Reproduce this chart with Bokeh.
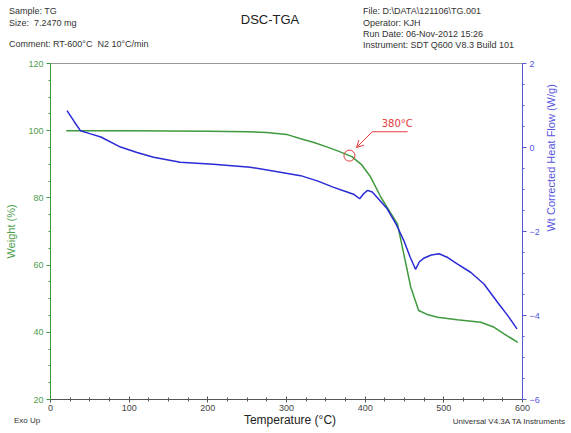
import math
import numpy as np
from bokeh.plotting import figure
from bokeh.layouts import column
from bokeh.models import (LinearAxis, Range1d, Label, Span, Arrow, OpenHead,
                          FixedTicker, Div)
from bokeh.embed import file_html
from bokeh.resources import INLINE

# ---- data ----
temp_w = [20, 50, 100, 150, 200, 250, 275, 300, 318, 335, 352, 365, 383, 395,
          407, 420, 428, 441, 449, 458, 468, 480, 492, 517, 547, 564, 576, 585, 594]
weight = [100.0, 100.0, 99.95, 99.9, 99.85, 99.7, 99.5, 98.9, 97.6, 96.5, 95.1,
          94.0, 92.3, 90.0, 86.2, 80.2, 77.2, 72.3, 63.4, 53.4, 46.5, 45.2, 44.5,
          43.7, 43.0, 41.5, 39.6, 38.3, 37.0]

temp_h = [21, 30, 38, 50, 64, 89, 110, 131, 165, 207, 254, 318, 340, 360, 377,
          386, 393, 398, 403, 409, 419, 428, 440, 449, 457, 464, 469, 475, 484,
          494, 505, 517, 534, 551, 568, 582, 593]
heat_flow = [0.88, 0.62, 0.40, 0.33, 0.25, 0.01, -0.12, -0.23, -0.35, -0.40,
             -0.47, -0.67, -0.80, -0.95, -1.06, -1.12, -1.22, -1.10, -1.02, -1.06,
             -1.27, -1.46, -1.85, -2.21, -2.60, -2.90, -2.72, -2.63, -2.56, -2.53,
             -2.62, -2.77, -2.97, -3.25, -3.68, -4.02, -4.32]

x_ticks = [0, 100, 200, 300, 400, 500, 600]
w_ticks = [20, 40, 60, 80, 100, 120]
hf_ticks = [-6, -4, -2, 0, 2]
mark_temp = 380
mark_text = "380°C"

header_left = ["Sample: TG", "Size:  7.2470 mg", "Comment: RT-600°C  N2 10°C/min"]
header_title = "DSC-TGA"
header_right = ["File: D:\\DATA\\121106\\TG.001", "Operator: KJH",
                "Run Date: 06-Nov-2012 15:26", "Instrument: SDT Q600 V8.3 Build 101"]
footer_left = "Exo Up"
x_label = "Temperature (°C)"
footer_right = "Universal V4.3A TA Instruments"

GREEN = "#3f9a3f"
GREEN_T = "#4d9e4d"
BLUE = "#2a2ad6"
BLUE_T = "#5656dc"
RED = "#e23a3a"
FONT = "Liberation Sans"

W = 565
HEAD_H = 56
FIG_H = 359
FOOT_H = 18

p = figure(width=W, height=FIG_H, output_backend="svg", toolbar_location=None,
           x_range=Range1d(0, 600), y_range=Range1d(20, 120),
           min_border_left=50, min_border_right=43, min_border_top=7,
           min_border_bottom=16, background_fill_color="white",
           border_fill_color="white", margin=0)
p.outline_line_color = None
p.grid.visible = False

p.extra_y_ranges = {"hf": Range1d(-6, 2)}

# x axis
xa = p.xaxis[0]
xa.ticker = FixedTicker(ticks=x_ticks, minor_ticks=list(range(0, 601, 25)))
xa.axis_line_color = "#555555"
xa.major_tick_line_color = "#555555"
xa.minor_tick_line_color = "#555555"
xa.major_tick_in = 3
xa.major_tick_out = 3
xa.minor_tick_in = 2
xa.minor_tick_out = 2
xa.major_label_text_font = FONT
xa.major_label_text_font_size = "9px"
xa.major_label_text_color = "#444444"
xa.major_label_standoff = 2

# left axis
ya = p.yaxis[0]
ya.ticker = FixedTicker(ticks=w_ticks, minor_ticks=list(range(20, 121, 5)))
ya.axis_line_color = GREEN
ya.major_tick_line_color = GREEN
ya.minor_tick_line_color = GREEN
ya.major_tick_in = 0
ya.major_tick_out = 4
ya.minor_tick_in = 0
ya.minor_tick_out = 2
ya.major_label_text_font = FONT
ya.major_label_text_font_size = "9px"
ya.major_label_text_color = GREEN_T
ya.major_label_standoff = 3
ya.axis_label = "Weight (%)"
ya.axis_label_text_font = FONT
ya.axis_label_text_font_style = "normal"
ya.axis_label_text_font_size = "11px"
ya.axis_label_text_color = GREEN_T
ya.axis_label_standoff = 8

# right axis
ra = LinearAxis(y_range_name="hf")
ra.ticker = FixedTicker(ticks=hf_ticks, minor_ticks=list(np.arange(-6, 2.01, 0.5)))
ra.axis_line_color = BLUE_T
ra.major_tick_line_color = BLUE_T
ra.minor_tick_line_color = BLUE_T
ra.major_tick_in = 0
ra.major_tick_out = 4
ra.minor_tick_in = 0
ra.minor_tick_out = 2
ra.major_label_text_font = FONT
ra.major_label_text_font_size = "9px"
ra.major_label_text_color = BLUE_T
ra.major_label_standoff = 3
ra.axis_label = "Wt Corrected Heat Flow (W/g)"
ra.axis_label_text_font = FONT
ra.axis_label_text_font_style = "normal"
ra.axis_label_text_font_size = "11px"
ra.axis_label_text_color = BLUE_T
ra.axis_label_standoff = 8
try:
    ra.axis_label_orientation = math.pi / 2
except Exception:
    pass
p.add_layout(ra, "right")

# top border
p.add_layout(Span(location=120, dimension="width", line_color="#333333", line_width=1))

# curves
p.line(temp_w, weight, line_color=GREEN, line_width=1.5)
p.line(temp_h, heat_flow, line_color=BLUE, line_width=1.5, y_range_name="hf")

# annotation at 380 C
mark_w = float(np.interp(mark_temp, temp_w, weight))
p.scatter([mark_temp], [mark_w], marker="circle", size=11, fill_color=None,
          line_color=RED, line_width=1)
p.add_layout(Arrow(end=OpenHead(size=7, line_color=RED, line_width=1),
                   x_start=mark_temp + 29, y_start=mark_w + 7.1,
                   x_end=mark_temp + 9, y_end=mark_w + 2.4,
                   line_color=RED, line_width=1))
p.segment(x0=[mark_temp + 29], y0=[mark_w + 7.1], x1=[mark_temp + 74], y1=[mark_w + 7.1],
          line_color=RED, line_width=1)
p.add_layout(Label(x=mark_temp + 41, y=mark_w + 9.6, text=mark_text, text_color=RED,
                   text_font="DejaVu Sans", text_font_size="10px",
                   text_baseline="middle", text_align="left"))


# header / footer as positioned HTML text
def span(x, ycenter, t, size=9, align="left", color="#333333"):
    lh = size + 3
    top = ycenter - lh / 2
    if align == "left":
        pos = f"left:{x}px;"
    elif align == "right":
        pos = f"right:{x}px;"
    else:
        pos = f"left:{x - 100}px;width:200px;text-align:center;"
    return (f'<span style="position:absolute;{pos}top:{top}px;font-family:\'{FONT}\';'
            f'font-size:{size}px;line-height:{lh}px;color:{color};white-space:pre;">{t}</span>')


head_html = "".join([
    span(9, 11, header_left[0]),
    span(9, 23, header_left[1]),
    span(9, 44, header_left[2]),
    span(270, 20, header_title, size=13, align="center", color="#222222"),
    span(363, 11, header_right[0]),
    span(363, 23, header_right[1]),
    span(363, 34, header_right[2]),
    span(363, 45, header_right[3]),
])
head = Div(text=f'<div style="position:relative;width:571px;height:{HEAD_H}px;">{head_html}</div>',
           width=571, height=HEAD_H, margin=0)

foot_html = "".join([
    span(14, 5, footer_left, size=8),
    span(290, 5, x_label, size=12, align="center", color="#222222"),
    span(6, 6, footer_right, size=8, align="right"),
])
foot = Div(text=f'<div style="position:relative;width:571px;height:{FOOT_H}px;">{foot_html}</div>',
           width=571, height=FOOT_H, margin=0)

layout = column(head, p, foot, spacing=0, margin=0)

open("out.html", "w").write(file_html(layout, INLINE))
